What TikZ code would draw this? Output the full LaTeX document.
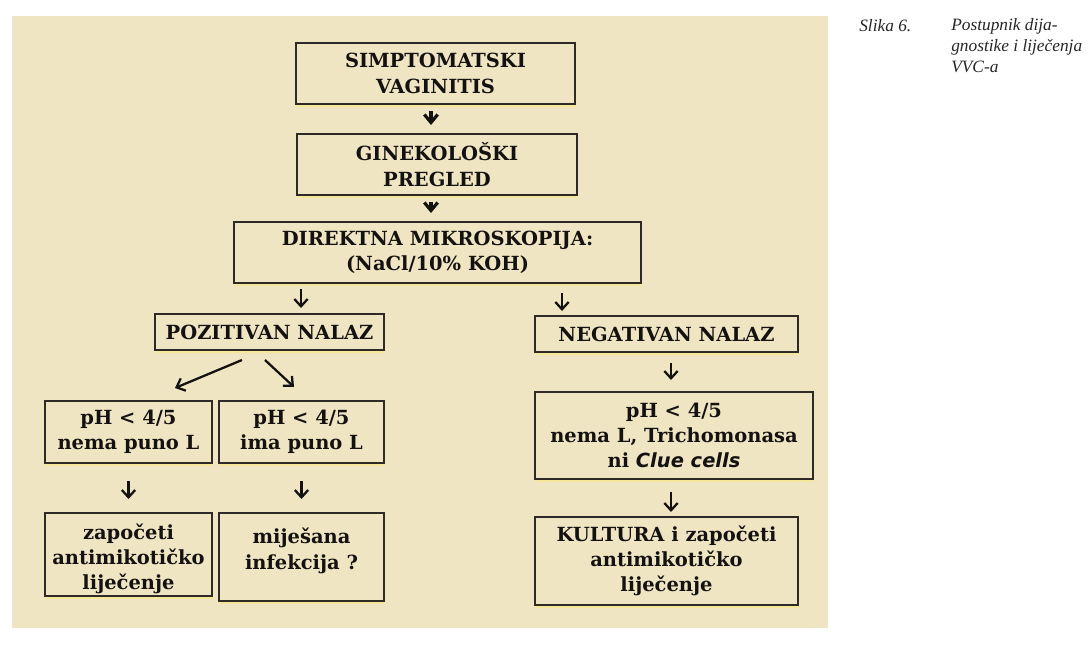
\documentclass[tikz,border=0pt]{standalone}
\usepackage{fontspec}
\setmainfont{DejaVu Serif}
\newfontfamily\capfont{Liberation Serif}
\newfontfamily\sansfam{DejaVu Sans}
\usetikzlibrary{arrows.meta,shadows}
\definecolor{bg}{RGB}{240,229,195}
\definecolor{edge}{RGB}{48,42,38}
\definecolor{glow}{RGB}{246,232,150}
\definecolor{ink}{RGB}{20,18,16}
\tikzset{
  box/.style={draw=edge, line width=1.5pt, fill=bg, align=center, inner sep=0pt,
    text=ink, font=\bfseries\fontsize{14.6}{19}\selectfont,
    drop shadow={shadow xshift=0.8pt, shadow yshift=-2pt, fill=glow, opacity=0.9}},
  arr/.style={draw=ink, line width=1.7pt, -{Straight Barb[length=5.5pt,width=10pt]}},
  harr/.style={draw=ink, line width=2.4pt, -{Straight Barb[length=6pt,width=10pt]}},
  captext/.style={inner sep=0pt, font=\capfont\itshape\fontsize{13}{15.9}\selectfont, text=black!85}
}
\begin{document}
\begin{tikzpicture}[x=0.75pt,y=-0.75pt]
\useasboundingbox (0,0) rectangle (1090,644);
\fill[white] (0,0) rectangle (1090,644);
\fill[bg] (12,16) rectangle (828,628);

\node[box, minimum width=209.25pt, minimum height=45.75pt] (b1) at (435.5,73.5) {SIMPTOMATSKI\\VAGINITIS};
\node[box, minimum width=210pt, minimum height=45.75pt] (b2) at (437,164.5) {GINEKOLOŠKI\\PREGLED};
\node[box, minimum width=305.25pt, minimum height=45.75pt] (b3) at (437.5,252.5) {DIREKTNA MIKROSKOPIJA:\\(NaCl/10\% KOH)};
\node[box, minimum width=171.75pt, minimum height=27pt] (pos) at (269.5,332) {POZITIVAN NALAZ};
\node[box, minimum width=197.25pt, minimum height=27pt] (neg) at (666.5,334) {NEGATIVAN NALAZ};
\node[box, minimum width=125.25pt, minimum height=46.5pt] (p1) at (128.5,432) {pH < 4/5\\nema puno L};
\node[box, minimum width=123.75pt, minimum height=46.5pt] (p2) at (301.5,432) {pH < 4/5\\ima puno L};
\node[box, minimum width=125.25pt, minimum height=62.25pt] (z1) at (128.5,554.5) {\rule{0pt}{18pt}započeti\\antimikotičko\\liječenje};
\node[box, minimum width=123.75pt, minimum height=66pt] (z2) at (301.5,557) {\rule{0pt}{18pt}miješana\\infekcija ?\\\mbox{}};
\node[box, minimum width=208.5pt, minimum height=65.25pt] (p3) at (674,435.5) {pH < 4/5\\nema L, Trichomonasa\\ni {\sansfam\bfseries\itshape Clue cells}};
\node[box, minimum width=197.25pt, minimum height=66pt] (k) at (666.5,561) {KULTURA i započeti\\antimikotičko\\liječenje};

\node[captext, anchor=base west] (c1) at (859,31) {Slika 6.};
\node[captext, anchor=north west, align=left] (c2) at (951,18) {Postupnik dija-\\gnostike i liječenja\\VVC-a};

\coordinate (xa) at (431,0);
\coordinate (xb) at (301,0);
\coordinate (xc) at (562,0);
\coordinate (xd) at (671,0);

\draw[harr, shorten <=4.5pt, shorten >=6pt] (b1.south -| xa) -- (b2.north -| xa);
\draw[harr, shorten <=4.5pt, shorten >=6pt] (b2.south -| xa) -- (b3.north -| xa);
\draw[arr, shorten <=3.75pt, shorten >=3.75pt] (b3.south -| xb) -- (pos.north -| xb);
\draw[arr, shorten <=6.75pt, shorten >=3pt] (b3.south -| xc) -- (neg.north -| xc);
\draw[arr] ([shift={(-27.5,9)}]pos.south) -- ([shift={(46.5,-12)}]p1.north);
\draw[arr] ([shift={(-4.5,9)}]pos.south) -- ([shift={(-7.5,-13)}]p2.north);
\draw[arr, shorten <=12.75pt, shorten >=9.75pt] (p1.south) -- (z1.north);
\draw[arr, shorten <=12.75pt, shorten >=9.75pt] (p2.south) -- (z2.north);
\draw[arr, shorten <=7.5pt, shorten >=8.25pt] (neg.south -| xd) -- (p3.north -| xd);
\draw[arr, shorten <=9pt, shorten >=3pt] (p3.south -| xd) -- (k.north -| xd);
\end{tikzpicture}
\end{document}
